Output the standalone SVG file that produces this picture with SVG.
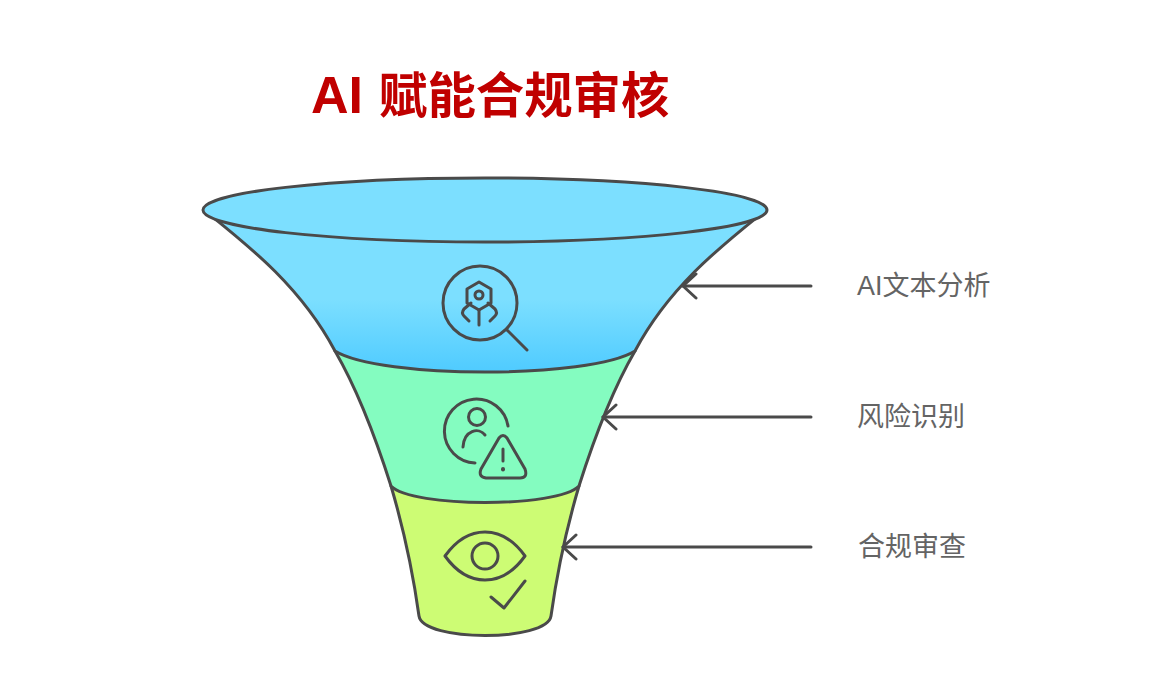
<svg xmlns="http://www.w3.org/2000/svg" width="1165" height="686" viewBox="0 0 1165 686">
<style>
.o{stroke:#4a4a4a;stroke-width:3;fill:none;stroke-linecap:round;stroke-linejoin:round}
.i{stroke:#4a4a4a;stroke-width:3;fill:none;stroke-linecap:round;stroke-linejoin:round}
.l{font-family:"Liberation Sans","Noto Sans CJK SC",sans-serif;font-size:27px;fill:#646464}
.t{font-family:"Liberation Sans","Noto Sans CJK SC",sans-serif;font-size:48.4px;font-weight:700;fill:#c00000}
</style>
<defs>
<linearGradient id="g1" x1="0" y1="0" x2="0" y2="1"><stop offset="0.55" stop-color="#7cdfff"/><stop offset="1" stop-color="#4fcbff"/></linearGradient>
<marker id="a" viewBox="0 0 18 28" refX="16" refY="14" markerWidth="18" markerHeight="28" markerUnits="userSpaceOnUse" orient="auto"><path d="M3 2L16 14L3 26" fill="none" stroke="#4a4a4a" stroke-width="3" stroke-linecap="round" stroke-linejoin="round"/></marker>
</defs>
<rect width="1165" height="686" fill="#fff"/>
<text class="t" x="311" y="113"><tspan font-size="52">AI</tspan><tspan dx="16">赋能合规审核</tspan></text>
<g id="stage3">
<path d="M391 486C404 530 414 580 419 616C423 642 547 642 551 616C556 580 566 530 579 486Z" style="fill:#cdfc74;stroke:none"/>
<path class="o" d="M391 486C404 530 414 580 419 616C423 642 547 642 551 616C556 580 566 530 579 486"/>
</g>
<g id="stage2">
<path d="M335 351C360 394 378 445 391 486C412 508 558 508 579 486C592 445 610 394 635 351Z" style="fill:#84fcc0;stroke:none"/>
<path class="o" d="M335 351C360 394 378 445 391 486C412 508 558 508 579 486C592 445 610 394 635 351"/>
</g>
<g id="stage1">
<path d="M204 210C245 243 300 285 335 351C380 379 590 379 635 351C670 285 725 243 766 210Z" style="fill:url(#g1);stroke:none"/>
<path class="o" d="M204 210C245 243 300 285 335 351C380 379 590 379 635 351C670 285 725 243 766 210"/>
<ellipse cx="485" cy="210" rx="282" ry="32" style="fill:#7cdfff" class="o"/>
</g>
<g id="icon1" class="i">
<circle cx="480" cy="303" r="37"/>
<path d="M507 330L527 350"/>
<path d="M479 282L467 289V303L479 310L491 303V289Z"/>
<circle cx="479" cy="295" r="4"/>
<path d="M479 310V325"/>
<path d="M471 303L464 309Q461 313 464 316L469 321"/>
<path d="M488 303L495 309Q498 313 495 316L490 321"/>
</g>
<g id="icon2" class="i">
<path d="M508 426A32 32 0 1 0 475 463"/>
<circle cx="477" cy="417" r="8.5"/>
<path d="M463 447C464 430 479 427 485 435"/>
<path d="M499 438Q503 433 507 438L525 469Q528 478 520 478H486Q478 477 481 469Z"/>
<path d="M503 449V461"/>
<path d="M503 469V469.5" stroke-width="4"/>
</g>
<g id="icon3" class="i">
<path d="M445 556C468 524 502 524 525 556C502 588 468 588 445 556Z"/>
<circle cx="485" cy="556" r="13"/>
<path d="M491 597L504 608L525 581"/>
</g>
<g id="connectors">
<path class="o" d="M811 286H683" marker-end="url(#a)"/>
<path class="o" d="M811 417H603" marker-end="url(#a)"/>
<path class="o" d="M811 547H563" marker-end="url(#a)"/>
</g>
<g id="labels">
<text class="l" x="857" y="295">AI文本分析</text>
<text class="l" x="857" y="426">风险识别</text>
<text class="l" x="858" y="556">合规审查</text>
</g>
</svg>
